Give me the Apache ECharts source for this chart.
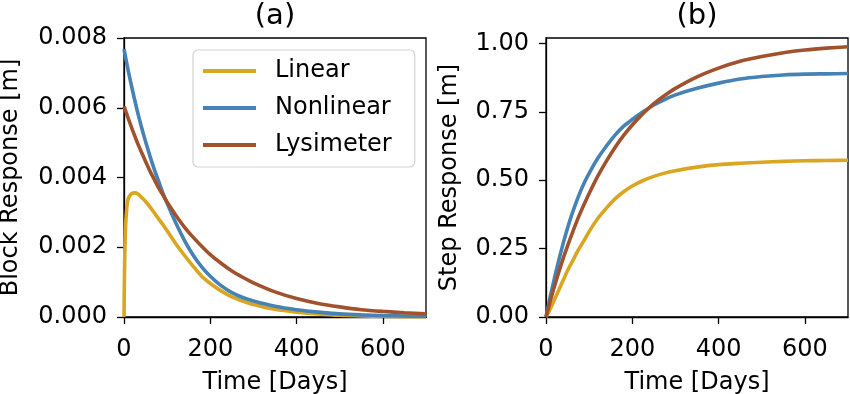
<!DOCTYPE html>
<html>
<head>
<meta charset="utf-8">
<script src="https://cdn.jsdelivr.net/npm/echarts@6/dist/echarts.min.js"></script>
<style>
html,body{margin:0;padding:0;background:#fff;}
#chart{width:850px;height:394px;}
</style>
</head>
<body>
<div id="chart"></div>
<script>
// ---- Data ----
const seriesNames = ['Linear', 'Nonlinear', 'Lysimeter'];

// Panel (a): block response [m]
const blockTimeLinear = [0,1,2,3,5,8,12,18,25,32,40,50,60,70,80,90,100,120,140,160,180,200,225,250,275,300,350,400,450,500,550,600,650,700];
const blockLinear = [0,0.0011,0.0019,0.0024,0.0029,0.0033,0.00345,0.00354,0.00356,0.00353,0.00344,0.00331,0.00316,0.00299,0.00282,0.00265,0.00247,0.00210,0.00177,0.00146,0.00117,0.00096,0.00075,0.00058,0.00046,0.00036,0.00022,0.00014,0.00009,0.00005,0.00003,0.00002,0.00001,0.00001];

const blockTime = [0,10,20,30,40,50,60,70,80,90,100,120,140,160,180,200,225,250,275,300,350,400,450,500,550,600,650,700];
const blockNonlinear = [0.00768,0.00705,0.00648,0.00595,0.00547,0.00503,0.00462,0.00424,0.00390,0.00356,0.00326,0.00270,0.00220,0.00178,0.00144,0.00117,0.00090,0.00070,0.00056,0.00046,0.00031,0.00021,0.00014,0.00009,0.00006,0.00004,0.00003,0.00002];
const blockLysimeter = [0.00604,0.00569,0.00535,0.00503,0.00474,0.00446,0.00419,0.00395,0.00371,0.00350,0.00329,0.00292,0.00258,0.00229,0.00203,0.00179,0.00154,0.00132,0.00114,0.00098,0.00072,0.00053,0.00039,0.00029,0.00021,0.00016,0.00012,0.00009];

// Panel (b): step response [m]
const stepTime = [0,10,20,30,40,50,60,75,90,105,120,140,160,180,200,225,250,275,300,350,400,450,500,550,600,650,700];
const stepLinear = [0,0.03,0.065,0.10,0.135,0.17,0.20,0.245,0.285,0.325,0.36,0.398,0.432,0.458,0.479,0.499,0.514,0.526,0.535,0.548,0.557,0.562,0.566,0.569,0.571,0.572,0.573];
const stepNonlinear = [0,0.075,0.145,0.210,0.270,0.325,0.375,0.440,0.495,0.540,0.580,0.625,0.665,0.698,0.722,0.750,0.775,0.795,0.812,0.836,0.855,0.870,0.879,0.885,0.888,0.889,0.890];
const stepLysimeter = [0,0.059,0.114,0.166,0.215,0.260,0.303,0.364,0.418,0.468,0.515,0.570,0.620,0.664,0.702,0.744,0.780,0.810,0.836,0.878,0.910,0.935,0.952,0.966,0.976,0.983,0.988];

// Tick labels
const xTicks = [0, 200, 400, 600];
const yTicksBlock = [0, 0.002, 0.004, 0.006, 0.008];
const yTicksStep = [0, 0.25, 0.5, 0.75, 1.0];

const titles = ['(a)', '(b)'];
const xName = 'Time [Days]';
const yNames = ['Block Response [m]', 'Step Response [m]'];

// ---- Chart ----
const colors = ['#DAA520', '#4682B4', '#A0522D'];
const FONT = 'DejaVu Sans';
const FS = 24;
const TITLE_FS = 29;

function pairs(t, v) { return t.map((x, i) => [x, v[i]]); }

const grids = [
  {left: 124, top: 38, width: 302, height: 279},
  {left: 546, top: 38, width: 302, height: 279}
];

function xAxis(idx) {
  return {
    type: 'value', gridIndex: idx, min: 0, max: 700,
    name: xName, nameLocation: 'middle', nameGap: 54,
    nameTextStyle: {fontFamily: FONT, fontSize: FS, color: '#000'},
    axisLine: {show: true, onZero: false, lineStyle: {color: '#000', width: 1.3}},
    axisTick: {show: true, inside: false, length: 7, lineStyle: {color: '#000', width: 1.3}, customValues: xTicks},
    axisLabel: {fontFamily: FONT, fontSize: FS, color: '#000', margin: 21, customValues: xTicks,
      formatter: v => String(Math.round(v))},
    splitLine: {show: false}
  };
}

function yAxis(idx, max, ticks, dec, gap) {
  return {
    type: 'value', gridIndex: idx, min: 0, max: max,
    name: yNames[idx], nameLocation: 'middle', nameGap: gap, nameRotate: 90,
    nameTextStyle: {fontFamily: FONT, fontSize: FS, color: '#000'},
    axisLine: {show: true, onZero: false, lineStyle: {color: '#000', width: 1.3}},
    axisTick: {show: true, inside: false, length: 7, lineStyle: {color: '#000', width: 1.3}, customValues: ticks},
    axisLabel: {fontFamily: FONT, fontSize: FS, color: '#000', margin: 17, customValues: ticks,
      formatter: v => Number(v).toFixed(dec)},
    splitLine: {show: false}
  };
}

function line(name, data, idx, ci) {
  return {
    name: name, type: 'line', xAxisIndex: idx, yAxisIndex: idx,
    data: data, showSymbol: false, symbol: 'none',
    smooth: 0.25,
    lineStyle: {color: colors[ci], width: 3.6},
    itemStyle: {color: colors[ci]},
    clip: true, animation: false
  };
}

const option = {
  animation: false,
  backgroundColor: '#fff',
  textStyle: {fontFamily: FONT},
  grid: grids.map(g => Object.assign({show: true, borderColor: '#000', borderWidth: 1.3, backgroundColor: 'transparent',
    containLabel: false, outerBoundsMode: 'none'}, g)),
  xAxis: [xAxis(0), xAxis(1)],
  yAxis: [yAxis(0, 0.008, yTicksBlock, 3, 101), yAxis(1, 1.02, yTicksStep, 2, 84)],
  legend: {
    data: seriesNames,
    orient: 'vertical',
    left: 193, top: 50,
    icon: 'rect',
    itemWidth: 53, itemHeight: 3.8,
    itemGap: 13,
    padding: [9, 23, 10, 10],
    borderColor: '#d3d3d3', borderWidth: 1.2, borderRadius: 5,
    backgroundColor: 'rgba(255,255,255,0.8)',
    textStyle: {fontFamily: FONT, fontSize: FS, color: '#000', lineHeight: 24, padding: [0, 0, 0, 14]},
    selectedMode: false
  },
  graphic: [
    {type: 'text', x: 275, y: 16, style: {text: titles[0], fontFamily: FONT, fontSize: TITLE_FS, fill: '#000', align: 'center', verticalAlign: 'middle'}},
    {type: 'text', x: 697, y: 16, style: {text: titles[1], fontFamily: FONT, fontSize: TITLE_FS, fill: '#000', align: 'center', verticalAlign: 'middle'}}
  ],
  series: [
    line(seriesNames[0], pairs(blockTimeLinear, blockLinear), 0, 0),
    line(seriesNames[1], pairs(blockTime, blockNonlinear), 0, 1),
    line(seriesNames[2], pairs(blockTime, blockLysimeter), 0, 2),
    line(seriesNames[0], pairs(stepTime, stepLinear), 1, 0),
    line(seriesNames[1], pairs(stepTime, stepNonlinear), 1, 1),
    line(seriesNames[2], pairs(stepTime, stepLysimeter), 1, 2)
  ]
};

const chart = echarts.init(document.getElementById('chart'), null, {renderer: 'canvas'});
chart.setOption(option);
</script>
</body>
</html>
